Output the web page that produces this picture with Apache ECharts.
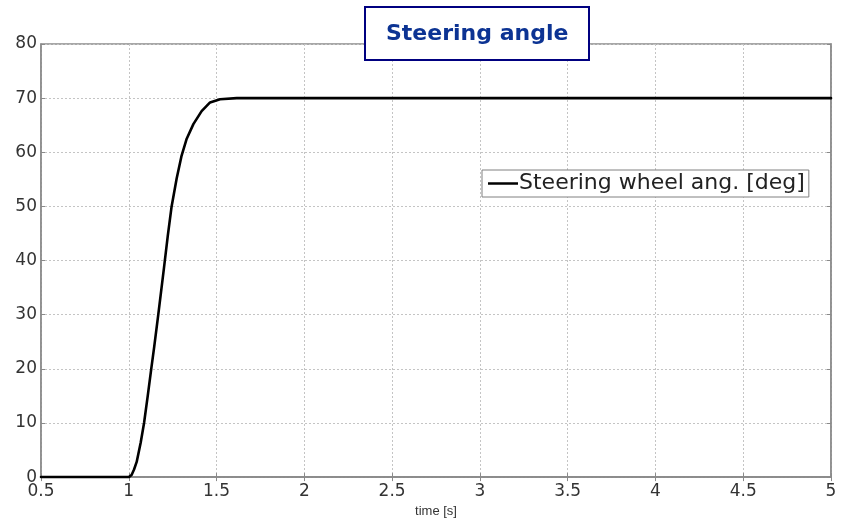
<!DOCTYPE html>
<html>
<head>
<meta charset="utf-8">
<script src="https://cdn.jsdelivr.net/npm/echarts@6/dist/echarts.min.js"></script>
<style>html,body{margin:0;padding:0;background:#fff}#c{width:843px;height:523px}</style>
</head>
<body>
<div id="c"></div>
<script>
// time [s]
var timeValues = [0.5, 1.0, 1.016, 1.03, 1.045, 1.068, 1.087, 1.108, 1.128, 1.145, 1.168, 1.2, 1.222, 1.244, 1.273, 1.301, 1.33, 1.368, 1.415, 1.463, 1.52, 1.615, 5.0];
// Steering wheel angle [deg]
var angleValues = [0, 0, 0.4, 1.4, 2.8, 6.4, 10, 15, 20, 24.1, 30, 38.5, 44.5, 50, 55.2, 59.4, 62.5, 65.2, 67.6, 69.2, 69.8, 70, 70];
var seriesName = 'Steering wheel ang. [deg]';
var chartTitle = 'Steering angle';
var xName = 'time [s]';

var points = timeValues.map(function (t, i) { return [t, angleValues[i]]; });

var chart = echarts.init(document.getElementById('c'), null, { renderer: 'canvas' });
var frame = '#8a8a8a';
var labelFont = { fontFamily: 'DejaVu Sans', fontSize: 17, color: '#333' };
chart.setOption({
  animation: false,
  backgroundColor: '#fff',
  title: {
    text: chartTitle,
    left: 365, top: 7,
    padding: [15, 21, 14, 21],
    borderColor: '#000080', borderWidth: 2,
    backgroundColor: '#fff',
    textStyle: { fontFamily: 'DejaVu Sans', fontWeight: 'bold', fontSize: 22, color: '#0c3393', lineHeight: 24 }
  },
  legend: {
    left: 482, top: 170,
    padding: [2, 4, 2, 6],
    borderColor: '#808080', borderWidth: 1,
    backgroundColor: '#fff',
    icon: 'rect', itemWidth: 30, itemHeight: 2.5,
    textStyle: { fontFamily: 'DejaVu Sans', fontSize: 22, color: '#222', lineHeight: 23, padding: [0, 0, 0, -4] },
    data: [seriesName]
  },
  grid: { left: 41, right: 12, top: 44, bottom: 41, show: true, borderColor: frame, borderWidth: 1.5, backgroundColor: '#fff', z: 0 },
  xAxis: [{
    type: 'value', min: 0.5, max: 5, interval: 0.5,
    name: xName, nameLocation: 'middle', nameGap: 23,
    nameTextStyle: { fontFamily: 'Liberation Sans', fontSize: 13, color: '#333' },
    axisLine: { show: true, lineStyle: { color: frame, width: 1.5 } },
    axisTick: { show: true, inside: true, length: 4, lineStyle: { color: frame } },
    axisLabel: Object.assign({ margin: 6 }, labelFont),
    splitLine: { show: true, lineStyle: { color: '#c4c4c4', type: [2, 2], width: 1 } }
  }, {
    type: 'value', min: 0.5, max: 5, interval: 0.5, position: 'top',
    axisLine: { show: true, lineStyle: { color: frame, width: 1.5 } },
    axisTick: { show: true, inside: true, length: 4, lineStyle: { color: frame } },
    axisLabel: { show: false }, splitLine: { show: false }
  }],
  yAxis: [{
    type: 'value', min: 0, max: 80, interval: 10,
    axisLine: { show: true, lineStyle: { color: frame, width: 1.5 } },
    axisTick: { show: true, inside: true, length: 4, lineStyle: { color: frame } },
    axisLabel: Object.assign({ margin: 4 }, labelFont),
    splitLine: { show: true, lineStyle: { color: '#c4c4c4', type: [2, 2], width: 1 } }
  }, {
    type: 'value', min: 0, max: 80, interval: 10, position: 'right',
    axisLine: { show: true, lineStyle: { color: frame, width: 1.5 } },
    axisTick: { show: true, inside: true, length: 4, lineStyle: { color: frame } },
    axisLabel: { show: false }, splitLine: { show: false }
  }],
  series: [{
    name: seriesName,
    type: 'line',
    xAxisIndex: 0, yAxisIndex: 0,
    data: points,
    smooth: false,
    symbol: 'none',
    lineStyle: { color: '#000', width: 2.6, join: 'round', cap: 'round' },
    itemStyle: { color: '#000' }
  }]
});
</script>
</body>
</html>
